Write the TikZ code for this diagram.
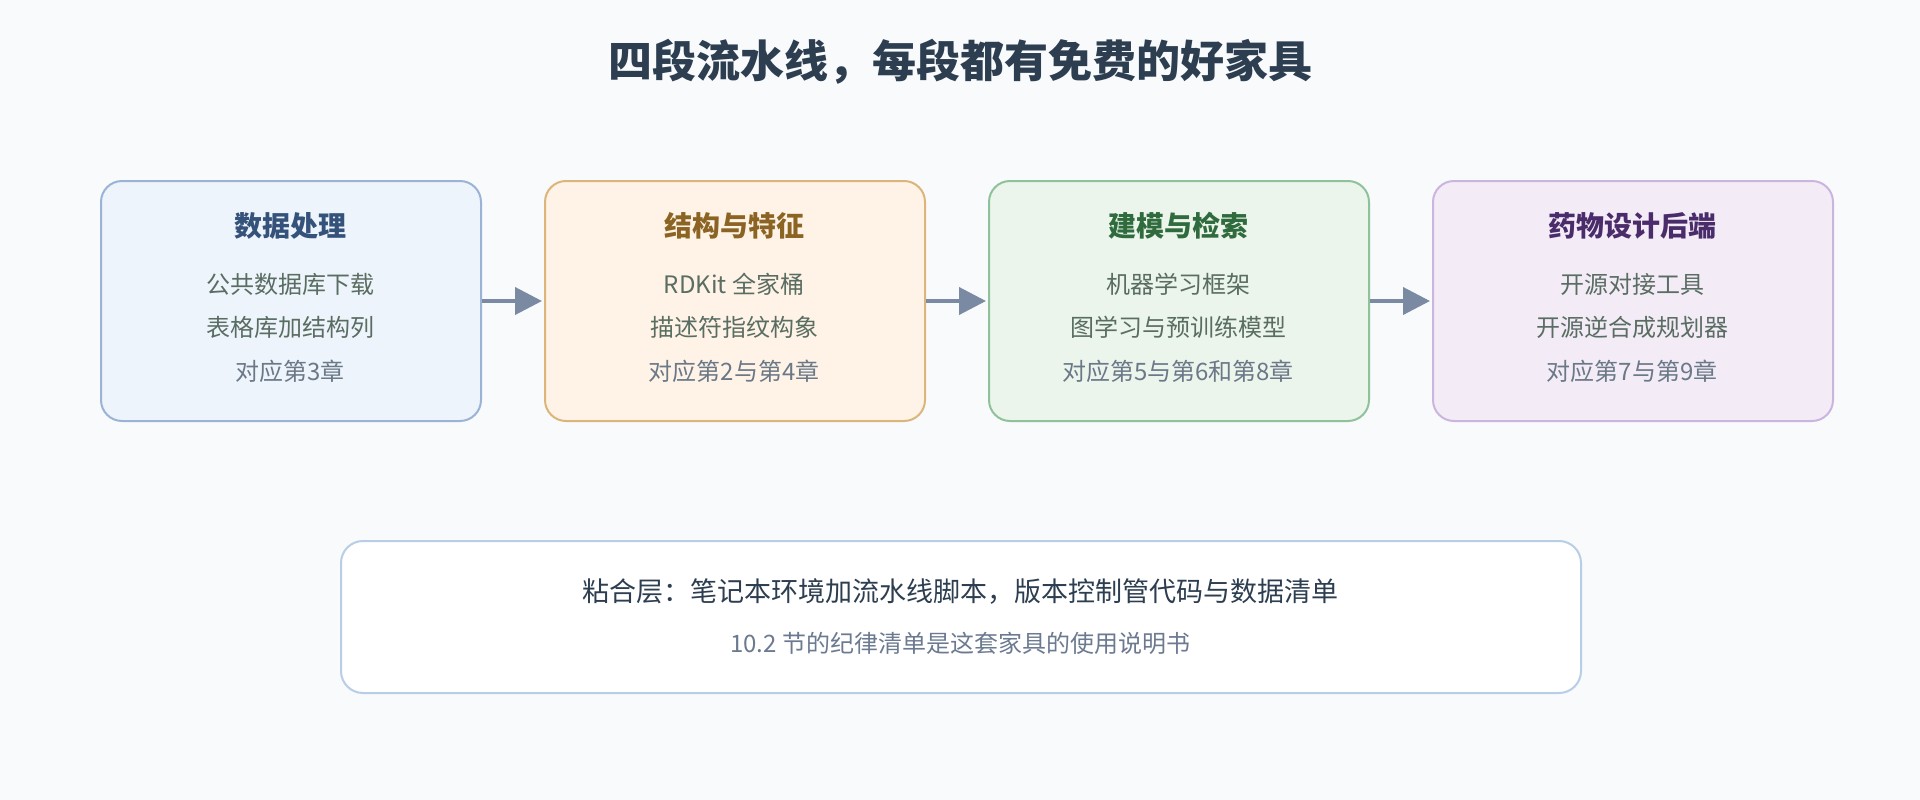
\documentclass[tikz,border=0pt]{standalone}
\usepackage{fontspec}
\setmainfont{Noto Sans CJK SC}
\usetikzlibrary{arrows.meta}
\definecolor{bg}{HTML}{F8FAFC}
\definecolor{titlec}{HTML}{2C3E50}
\definecolor{fA}{HTML}{EEF4FB}\definecolor{sA}{HTML}{9BB4D6}\definecolor{hA}{HTML}{34527A}
\definecolor{fB}{HTML}{FEF3E6}\definecolor{sB}{HTML}{DCB57A}\definecolor{hB}{HTML}{8B6424}
\definecolor{fC}{HTML}{EBF5EC}\definecolor{sC}{HTML}{8FC29A}\definecolor{hC}{HTML}{2F6B3D}
\definecolor{fD}{HTML}{F3ECF7}\definecolor{sD}{HTML}{CBB5DE}\definecolor{hD}{HTML}{4A2C6B}
\definecolor{bodyc}{HTML}{5A6D62}
\definecolor{refc}{HTML}{6B7888}
\definecolor{glues}{HTML}{B8CDE6}
\definecolor{gluet}{HTML}{2C3E50}
\definecolor{glue2}{HTML}{6B7A90}
\definecolor{arrc}{HTML}{7A8AA2}
\begin{document}
\begin{tikzpicture}[x=1pt,y=-1pt,
  stagebox/.style={draw,line width=2pt,rounded corners=21pt,minimum height=240pt,anchor=north west,inner sep=0pt},
  headtxt/.style={anchor=base,font=\bfseries\fontsize{28}{30}\selectfont,inner sep=0pt},
  bodytxt/.style={anchor=base,font=\fontsize{24}{26}\selectfont,inner sep=0pt,text=bodyc},
  reftxt/.style={anchor=base,font=\fontsize{24}{26}\selectfont,inner sep=0pt,text=refc},
  flow/.style={draw=arrc,line width=4pt,-{Triangle[length=27pt,width=27pt]},shorten >=2pt}
]
\fill[bg] (0,0) rectangle (1920,800);
\useasboundingbox (0,0) rectangle (1920,800);

\node[anchor=base,inner sep=0pt,text=titlec,font=\bfseries\fontsize{44}{48}\selectfont] (title) at (960,77.7) {四段流水线，每段都有免费的好家具};

\node[stagebox,fill=fA,draw=sA,minimum width=380pt] (b1) at (100,180) {};
\node[stagebox,fill=fB,draw=sB,minimum width=380pt] (b2) at (544,180) {};
\node[stagebox,fill=fC,draw=sC,minimum width=380pt] (b3) at (988,180) {};
\node[stagebox,fill=fD,draw=sD,minimum width=400pt] (b4) at (1432,180) {};

\node[headtxt,text=hA] (h1) at (290,236.6) {数据处理};
\node[bodytxt] (l11) at (290,293.3) {公共数据库下载};
\node[bodytxt] (l12) at (290,336.6) {表格库加结构列};
\node[reftxt]  (l13) at (290,380.8) {对应第3章};

\node[headtxt,text=hB] (h2) at (734,236.6) {结构与特征};
\node[bodytxt] (l21) at (734,293.3) {RDKit 全家桶};
\node[bodytxt] (l22) at (734,336.6) {描述符指纹构象};
\node[reftxt]  (l23) at (734,380.8) {对应第2与第4章};

\node[headtxt,text=hC] (h3) at (1178,236.6) {建模与检索};
\node[bodytxt] (l31) at (1178,293.3) {机器学习框架};
\node[bodytxt] (l32) at (1178,336.6) {图学习与预训练模型};
\node[reftxt]  (l33) at (1178,380.8) {对应第5与第6和第8章};

\node[headtxt,text=hD] (h4) at (1632,236.6) {药物设计后端};
\node[bodytxt] (l41) at (1632,293.3) {开源对接工具};
\node[bodytxt] (l42) at (1632,336.6) {开源逆合成规划器};
\node[reftxt]  (l43) at (1632,380.8) {对应第7与第9章};

\draw[flow] (b1.east) -- (b2.west);
\draw[flow] (b2.east) -- (b3.west);
\draw[flow] (b3.east) -- (b4.west);

\node[draw=glues,fill=white,line width=2pt,rounded corners=22pt,anchor=north west,minimum width=1240pt,minimum height=152pt,inner sep=0pt] (glue) at (340,540) {};
\node[anchor=base,inner sep=0pt,text=gluet,font=\fontsize{27}{30}\selectfont] (g1) at (960,601) {粘合层：笔记本环境加流水线脚本，版本控制管代码与数据清单};
\node[anchor=base,inner sep=0pt,text=glue2,font=\fontsize{24}{26}\selectfont] (g2) at (960,652) {10.2 节的纪律清单是这套家具的使用说明书};
\end{tikzpicture}
\end{document}
